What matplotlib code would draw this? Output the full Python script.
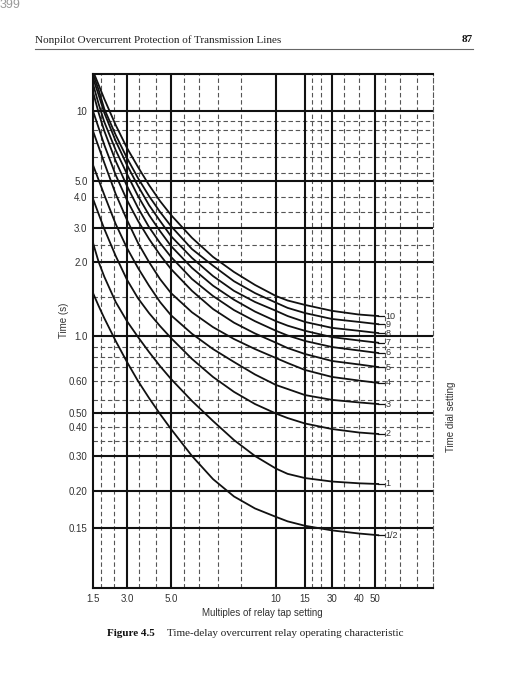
import numpy as np
import matplotlib.pyplot as plt
from matplotlib.ticker import FixedLocator, FixedFormatter

# the chart's own (uneven) scales: value -> position along the axis
x_knot_val = [1.0, 1.5, 3.0, 5.0, 10, 15, 30, 40, 50, 200]
x_knot_pos = [81.7, 93, 127, 171, 276, 305, 332, 359, 375, 615]
y_knot_val = [0.05, 0.10, 0.15, 0.20, 0.30, 0.40, 0.50, 0.60, 1.0, 2.0, 3.0, 4.0, 5.0, 10, 12.6, 30]
y_knot_pos = [-60, 0, 60, 97, 132, 161, 175, 207, 252, 326, 360, 391, 407, 477, 514, 761]

# multiples of tap setting where the curves were read
multiples = [1.5, 1.75, 2.0, 2.5, 3.0, 3.5, 4.0, 4.5, 5.0, 6.0, 7.0, 8.0, 9.0, 10, 12, 15, 30, 40, 52]

# operating time (s) for each time dial setting
t_half = [1.58, 1.405, 1.24, 0.956, 0.769, 0.60, 0.547, 0.493, 0.393, 0.30, 0.234, 0.1926,
          0.1764, 0.165, 0.159, 0.153, 0.148, 0.1454, 0.144]
t_1 = [2.56, 2.0, 1.80, 1.46, 1.20, 0.991, 0.858, 0.733, 0.618, 0.5375, 0.443, 0.355,
       0.30, 0.264, 0.249, 0.237, 0.227, 0.222, 0.22]
t_2 = [3.94, 3.45, 2.97, 2.18, 1.76, 1.51, 1.31, 1.135, 0.982, 0.796, 0.636, 0.566,
       0.528, 0.496, 0.464, 0.425, 0.393, 0.381, 0.376]
t_3 = [6.14, 5.07, 4.125, 3.13, 2.41, 1.92, 1.68, 1.46, 1.28, 1.03, 0.884, 0.769,
       0.658, 0.5875, 0.575, 0.556, 0.541, 0.533, 0.528]
t_4 = [8.57, 7.43, 6.29, 4.19, 3.26, 2.56, 2.0, 1.77, 1.58, 1.32, 1.12, 0.973,
       0.884, 0.804, 0.76, 0.698, 0.636, 0.604, 0.594]
t_5 = [10.0, 8.79, 7.57, 5.43, 3.90, 3.23, 2.68, 2.21, 1.905, 1.61, 1.365, 1.18,
       1.034, 0.94, 0.893, 0.84, 0.778, 0.747, 0.724]
t_6 = [11.34, 9.86, 8.57, 6.43, 4.69, 3.65, 3.03, 2.56, 2.15, 1.77, 1.54, 1.35,
       1.20, 1.07, 1.007, 0.956, 0.902, 0.871, 0.849]
t_7 = [11.90, 10.49, 9.21, 7.21, 5.50, 4.06, 3.42, 2.91, 2.47, 1.92, 1.68, 1.49,
       1.33, 1.20, 1.14, 1.07, 0.99, 0.96, 0.94]
t_8 = [12.32, 11.12, 9.86, 7.86, 6.14, 4.69, 3.74, 3.23, 2.76, 2.12, 1.81, 1.61,
       1.46, 1.34, 1.27, 1.19, 1.11, 1.07, 1.04]
t_9 = [12.6, 11.48, 10.14, 8.29, 6.64, 5.21, 4.06, 3.52, 3.06, 2.38, 1.95, 1.74,
       1.58, 1.45, 1.38, 1.31, 1.23, 1.19, 1.16]
t_10 = [12.81, 11.83, 10.84, 9.0, 7.36, 6.0, 4.75, 3.87, 3.42, 2.71, 2.15, 1.865,
        1.69, 1.54, 1.48, 1.42, 1.34, 1.29, 1.27]

dial_labels = ['1/2', '1', '2', '3', '4', '5', '6', '7', '8', '9', '10']
curves = [t_half, t_1, t_2, t_3, t_4, t_5, t_6, t_7, t_8, t_9, t_10]

# grid
x_major = [3.0, 5.0, 10, 15, 30, 50]
x_minor = [1.85, 2.43, 3.55, 4.32, 5.62, 6.33, 7.24, 8.33, 18.9, 23.9, 34.4, 40, 56.3, 65.6, 76.3]
y_major = [0.15, 0.20, 0.30, 0.50, 1.0, 2.0, 3.0, 5.0, 10]
y_minor = [0.352, 0.40, 0.541, 0.60, 0.724, 0.813, 0.902, 1.53, 2.5, 3.52, 4.0, 5.57, 6.71, 7.71, 8.64, 9.29]

x_ticks = [1.5, 3.0, 5.0, 10, 15, 30, 40, 50]
x_ticklabels = ['1.5', '3.0', '5.0', '10', '15', '30', '40', '50']
y_ticks = [0.15, 0.20, 0.30, 0.40, 0.50, 0.60, 1.0, 2.0, 3.0, 4.0, 5.0, 10]
y_ticklabels = ['0.15', '0.20', '0.30', '0.40', '0.50', '0.60', '1.0', '2.0', '3.0', '4.0', '5.0', '10']


def fx(v):
    return np.interp(v, x_knot_val, x_knot_pos)


def fx_inv(p):
    return np.interp(p, x_knot_pos, x_knot_val)


def fy(v):
    return np.interp(v, y_knot_val, y_knot_pos)


def fy_inv(p):
    return np.interp(p, y_knot_pos, y_knot_val)


fig = plt.figure(figsize=(5.25, 7), dpi=100)
ax = fig.add_axes([93 / 525, 1 - 588 / 700, (432.6 - 93) / 525, (588 - 74) / 700])
ax.set_xscale('function', functions=(fx, fx_inv))
ax.set_yscale('function', functions=(fy, fy_inv))
ax.set_xlim(1.5, 86)
ax.set_ylim(0.10, 12.6)

dash = (0, (4, 2.5))
for v in x_major:
    ax.axvline(v, color='#111', lw=1.5, zorder=2)
for v in x_minor:
    ax.axvline(v, color='#555', lw=0.8, ls=dash, zorder=1)
for v in y_major:
    ax.axhline(v, color='#111', lw=1.5, zorder=2)
for v in y_minor:
    ax.axhline(v, color='#555', lw=0.8, ls=dash, zorder=1)

for sp in ['left', 'top', 'bottom']:
    ax.spines[sp].set_linewidth(1.5)
    ax.spines[sp].set_color('#111')
ax.spines['right'].set_linestyle(dash)
ax.spines['right'].set_linewidth(0.8)
ax.spines['right'].set_color('#555')

for lab, t in zip(dial_labels, curves):
    ax.plot(multiples, t, color='#111', lw=1.3, zorder=3, solid_joinstyle='round')
    ax.plot([multiples[-1], 55.5], [t[-1], t[-1]], color='#111', lw=0.9, zorder=3)
    ax.text(56.5, t[-1], lab, fontsize=6.5, color='#333', ha='left', va='center',
            family='Liberation Sans', zorder=4)

ax.xaxis.set_major_locator(FixedLocator(x_ticks))
ax.xaxis.set_major_formatter(FixedFormatter(x_ticklabels))
ax.yaxis.set_major_locator(FixedLocator(y_ticks))
ax.yaxis.set_major_formatter(FixedFormatter(y_ticklabels))
ax.xaxis.set_minor_locator(FixedLocator([]))
ax.yaxis.set_minor_locator(FixedLocator([]))
ax.tick_params(length=0, pad=4, labelsize=7, labelcolor='#333')
for lb in ax.get_xticklabels() + ax.get_yticklabels():
    lb.set_family('Liberation Sans')

ax.set_xlabel('Multiples of relay tap setting', fontsize=7, color='#333',
              family='Liberation Sans', labelpad=3)
ax.set_ylabel('Time (s)', fontsize=7, color='#333', family='Liberation Sans')
ax.yaxis.set_label_coords(-0.072, 0.52)
ax.text(1.055, 0.333, 'Time dial setting', transform=ax.transAxes, rotation=90,
        fontsize=7, color='#333', family='Liberation Sans', ha='center', va='center')

# page furniture
fig.text(0.0, 0.993, '399', fontsize=9, color='#999', family='Liberation Sans', va='center')
fig.text(35 / 525, 1 - 40 / 700, 'Nonpilot Overcurrent Protection of Transmission Lines',
         fontsize=8, family='Liberation Serif', color='#222', va='center')
fig.text(473 / 525, 1 - 40 / 700, '87', fontsize=8, family='Liberation Serif',
         weight='bold', color='#111', ha='right', va='center')
fig.add_artist(plt.Line2D([35 / 525, 473 / 525], [1 - 49 / 700, 1 - 49 / 700],
                          color='#666', lw=0.8))
fig.text(107 / 525, 1 - 633 / 700, 'Figure 4.5', fontsize=8, family='Liberation Serif',
         weight='bold', color='#111', va='center')
fig.text(167 / 525, 1 - 633 / 700, 'Time-delay overcurrent relay operating characteristic',
         fontsize=8, family='Liberation Serif', color='#222', va='center')

fig.savefig('out.png', dpi=100)
